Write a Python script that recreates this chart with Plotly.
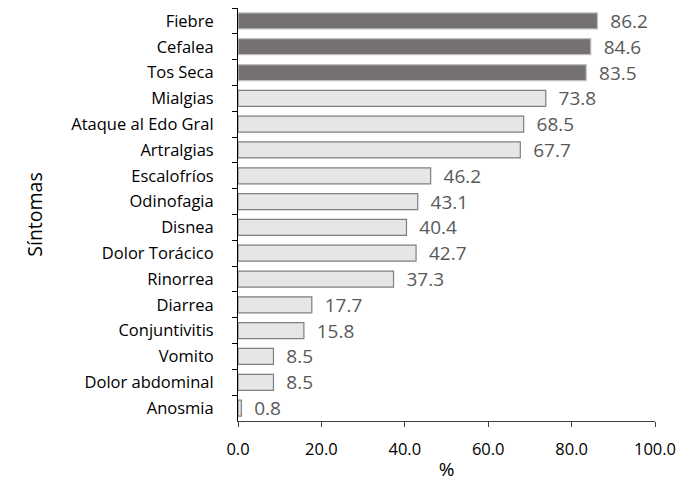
import plotly.graph_objects as go

categories = ["Fiebre", "Cefalea", "Tos Seca", "Mialgias", "Ataque al Edo Gral", "Artralgias",
              "Escalofríos", "Odinofagia", "Disnea", "Dolor Torácico", "Rinorrea", "Diarrea",
              "Conjuntivitis", "Vomito", "Dolor abdominal", "Anosmia"]
values = [86.2, 84.6, 83.5, 73.8, 68.5, 67.7, 46.2, 43.1, 40.4, 42.7, 37.3, 17.7, 15.8, 8.5, 8.5, 0.8]
highlight_count = 3
x_ticks = [0, 20, 40, 60, 80, 100]

colors = ["#767171" if i < highlight_count else "#E7E6E6" for i in range(len(values))]
line_colors = ["#BFBFBF" if i < highlight_count else "#7F7F7F" for i in range(len(values))]

FONT = "Open Sans"

fig = go.Figure(go.Bar(
    y=categories, x=values, orientation="h",
    marker=dict(color=colors, line=dict(color=line_colors, width=1.2)),
    width=0.62,
    text=["\u00a0\u00a0" + f"{v:.1f}" for v in values], textposition="outside",
    textfont=dict(family=FONT, size=19, color="#595959"),
    constraintext="none",
    cliponaxis=False,
))

fig.update_layout(
    width=684, height=474,
    margin=dict(l=230, r=37, t=0, b=61),
    plot_bgcolor="white", paper_bgcolor="white",
    showlegend=False,
    font=dict(family=FONT, color="#000000"),
)
fig.update_xaxes(
    range=[0, 100], tickvals=x_ticks, ticktext=[f"{t:.1f}" for t in x_ticks],
    showgrid=False, zeroline=False,
    showline=True, linecolor="#404040", linewidth=1,
    ticks="outside", ticklen=5, tickcolor="#404040",
    tickfont=dict(family=FONT, size=16.5, color="#000000"),
    ticklabelstandoff=8,
    title=dict(text="%", font=dict(family=FONT, size=19, color="#000000"), standoff=3),
)
fig.update_yaxes(
    autorange="reversed", showgrid=False, zeroline=False,
    showline=True, linecolor="#000000", linewidth=1,
    ticks="outside", ticklen=5, tickcolor="#000000", tickson="boundaries",
    tickfont=dict(family=FONT, size=16.5, color="#000000"),
    ticklabelstandoff=20,
    title=dict(text="Síntomas", font=dict(family=FONT, size=19.5, color="#000000"), standoff=23),
)

fig.write_html("out.html")
